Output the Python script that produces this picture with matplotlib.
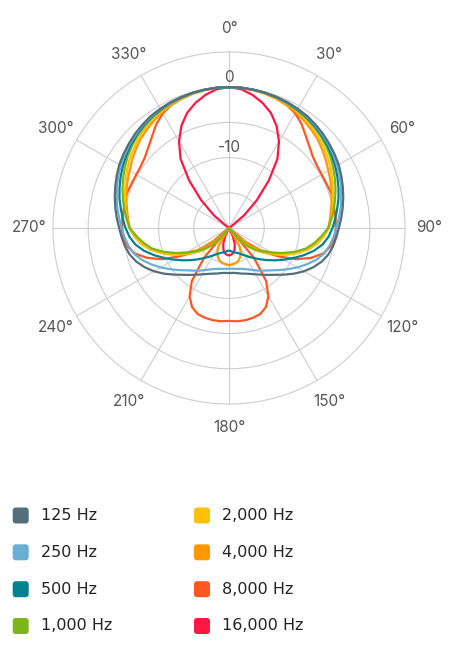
import numpy as np
import matplotlib
matplotlib.use("Agg")
import matplotlib.pyplot as plt
from matplotlib.patches import FancyBboxPatch

# ---------------- data (dB, angles 0..180 deg in 5 deg steps; pattern is symmetric) -------------
angles_half = list(range(0, 185, 5))

hz125 = [0, 0, -0.05, -0.1, -0.2, -0.3, -0.45, -0.6, -0.85, -1.1, -1.4, -1.7, -2.0, -2.4, -2.8,
         -3.2, -3.6, -4.0, -4.4, -4.7, -5.0, -5.4, -6.0, -6.8, -7.7, -8.7, -9.7, -10.6, -11.3,
         -11.9, -12.4, -12.8, -13.1, -13.3, -13.5, -13.6, -13.6]
hz250 = [0, 0, -0.05, -0.1, -0.2, -0.35, -0.5, -0.7, -0.95, -1.25, -1.55, -1.9, -2.25, -2.65,
         -3.05, -3.5, -3.9, -4.35, -4.75, -5.1, -5.5, -6.0, -6.8, -7.8, -8.8, -9.8, -10.7, -11.5,
         -12.1, -12.6, -13.1, -13.5, -13.8, -14.0, -14.1, -14.2, -14.2]
hz500 = [0, 0, -0.05, -0.15, -0.25, -0.4, -0.6, -0.8, -1.1, -1.4, -1.75, -2.15, -2.55, -3.0,
         -3.45, -3.9, -4.4, -4.85, -5.3, -5.8, -6.5, -7.5, -8.7, -9.9, -11.0, -12.0, -12.9, -13.7,
         -14.4, -15.0, -15.5, -15.9, -16.2, -16.4, -16.5, -16.7, -16.8]
hz1000 = [0, 0, -0.05, -0.15, -0.3, -0.45, -0.65, -0.9, -1.2, -1.55, -1.95, -2.4, -2.9, -3.4,
          -3.9, -4.4, -4.9, -5.4, -5.9, -6.8, -7.7, -8.7, -10.1, -11.6, -13.0, -14.2, -15.3,
          -16.5, -18.2, -20, -20, -20, -20, -20, -20, -20, -20]
hz2000 = [0, 0, -0.1, -0.2, -0.35, -0.55, -0.8, -1.1, -1.5, -1.9, -2.35, -2.8, -3.3, -3.8,
          -4.3, -4.7, -5.1, -5.45, -5.8, -6.5, -7.3, -8.3, -9.6, -11.0, -12.5, -13.8, -15.0,
          -16.4, -18.0, -20, -20, -20, -20, -20, -20, -20, -20]
hz4000 = [0, 0, -0.1, -0.25, -0.45, -0.7, -1.0, -1.4, -1.8, -2.2, -2.7, -3.2, -3.7, -4.1,
          -4.5, -4.9, -5.3, -5.6, -5.9, -6.5, -7.3, -8.4, -9.8, -11.4, -13.0, -14.5, -16.2,
          -18.5, -20, -19.5, -17.0, -16.0, -15.5, -15.1, -14.9, -14.8, -14.7]
hz8000 = [0, 0, -0.1, -0.2, -0.4, -0.7, -1.2, -2.0, -3.0, -3.8, -4.4, -4.7, -4.8, -4.8, -4.7,
          -4.7, -4.8, -4.8, -4.8, -4.9, -5.3, -6.1, -7.6, -9.5, -12.0, -14.0, -17.0, -20,
          -14.5, -10.8, -8.8, -7.6, -7.0, -6.8, -6.7, -6.7, -6.8]
hz16000 = [0, -0.2, -0.8, -1.6, -2.6, -4.0, -5.8, -8.0, -11.2, -14.4, -17.2, -19.6, -20, -20,
           -20, -20, -20, -20, -20, -20, -20, -20, -20, -20, -20, -20, -20, -20, -20, -20, -20,
           -18.8, -17.6, -16.9, -16.4, -16.2, -16.1]

series_labels = ["125 Hz", "250 Hz", "500 Hz", "1,000 Hz",
                 "2,000 Hz", "4,000 Hz", "8,000 Hz", "16,000 Hz"]
series_values = [hz125, hz250, hz500, hz1000, hz2000, hz4000, hz8000, hz16000]
series_colors = ["#546E7A", "#6AAED6", "#00838F", "#7CB518",
                 "#FFC107", "#FF9800", "#FF5722", "#FF1744"]

theta_ticks = list(range(0, 360, 30))
theta_labels = [f"{a}°" for a in theta_ticks]
r_rings = [-15, -10, -5, 0]
r_min, r_max = -20, 5
r_labels = {0: "0", -10: "-10"}

plt.rcParams["font.family"] = ["Inter", "DejaVu Sans"]

W, H = 452, 649
fig = plt.figure(figsize=(W / 100, H / 100), dpi=100)

cx, cy, R = 229, 228, 176
ax = fig.add_axes([(cx - R) / W, (H - cy - R) / H, 2 * R / W, 2 * R / H], projection="polar")
ax.set_theta_zero_location("N")
ax.set_theta_direction(-1)
ax.set_ylim(r_min, r_max)
ax.set_yticks(r_rings)
ax.set_yticklabels([])
ax.set_xticks(np.deg2rad(theta_ticks))
ax.set_xticklabels([])
ax.tick_params(length=0)
ax.grid(True, color="#cdcdcd", lw=0.8)
ax.spines["polar"].set_color("#cdcdcd")
ax.spines["polar"].set_linewidth(0.8)
ax.set_facecolor("white")


def full_circle(vals):
    v = list(vals) + list(vals[-2::-1])
    th = np.deg2rad(list(angles_half) + [360 - a for a in angles_half[-2::-1]])
    return th, np.maximum(np.array(v, dtype=float), r_min)


for vals, col in list(zip(series_values, series_colors))[::-1]:
    th, rr = full_circle(vals)
    ax.plot(th, rr, color=col, lw=1.6, solid_joinstyle="round", zorder=3)

for a, lab in zip(theta_ticks, theta_labels):
    ax.text(np.deg2rad(a), 8.4, lab, ha="center", va="center", fontsize=11,
            color="#555555", clip_on=False)
for rv, lab in r_labels.items():
    ax.text(0, rv + 1.4, lab, ha="center", va="center", fontsize=11,
            color="#555555", zorder=4)

# legend
lax = fig.add_axes([0, 0, 1, 1])
lax.set_xlim(0, W)
lax.set_ylim(H, 0)
lax.axis("off")
lax.patch.set_alpha(0)
row_y = [515.5, 552.3, 589.2, 626.0]
col_sw_x = [12.7, 194.0]
col_tx_x = [41.0, 222.5]
for i, (lab, col) in enumerate(zip(series_labels, series_colors)):
    c, r = divmod(i, 4)
    y = row_y[r]
    lax.add_patch(FancyBboxPatch((col_sw_x[c], y - 8), 16, 16,
                                 boxstyle="round,pad=0,rounding_size=3",
                                 fc=col, ec="none"))
    lax.text(col_tx_x[c], y, lab, ha="left", va="center", fontsize=11.5,
             color="#222222", family=["DejaVu Sans"])

fig.savefig("out.png", dpi=100, facecolor="white")
